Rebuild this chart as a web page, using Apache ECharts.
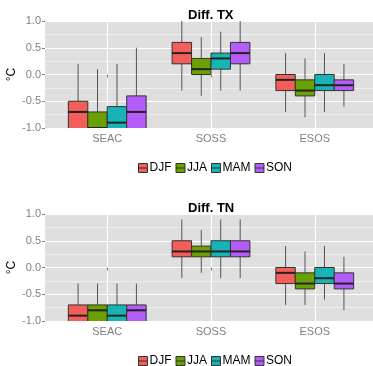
<!DOCTYPE html>
<html>
<head>
<meta charset="utf-8">
<script src="https://cdn.jsdelivr.net/npm/echarts@6/dist/echarts.min.js"></script>
<style>
  html, body { margin: 0; padding: 0; background: #fff; }
  #main { width: 373px; height: 366px; }
</style>
</head>
<body>
<div id="main"></div>
<script>
// 数据：类别、季节
var regions = ['SEAC', 'SOSS', 'ESOS'];
var seasons = ['DJF', 'JJA', 'MAM', 'SON'];
var colors = ['#F35E5A', '#6AA000', '#17B4B5', '#B45CF8'];

// 每个区域 [min, q1, median, q3, max]
var txDJF = [[-1.6, -1.2, -0.7, -0.5, 0.2], [-0.3, 0.2, 0.4, 0.6, 1.0], [-0.7, -0.3, -0.1, 0.0, 0.4]];
var txJJA = [[-1.6, -1.3, -1.0, -0.7, 0.1], [-0.4, 0.0, 0.1, 0.3, 0.7], [-0.8, -0.4, -0.3, -0.1, 0.3]];
var txMAM = [[-1.6, -1.2, -0.9, -0.6, 0.2], [-0.3, 0.1, 0.3, 0.4, 0.8], [-0.7, -0.3, -0.2, 0.0, 0.4]];
var txSON = [[-1.5, -1.1, -0.7, -0.4, 0.5], [-0.3, 0.2, 0.4, 0.6, 1.0], [-0.6, -0.3, -0.2, -0.1, 0.2]];

var tnDJF = [[-1.5, -1.1, -0.9, -0.7, -0.3], [-0.2, 0.2, 0.3, 0.5, 0.9], [-0.7, -0.3, -0.1, 0.0, 0.4]];
var tnJJA = [[-1.5, -1.1, -0.8, -0.7, -0.3], [-0.1, 0.2, 0.3, 0.4, 0.7], [-0.7, -0.4, -0.3, -0.1, 0.3]];
var tnMAM = [[-1.5, -1.1, -0.9, -0.7, -0.3], [-0.2, 0.2, 0.3, 0.5, 0.9], [-0.6, -0.3, -0.2, 0.0, 0.4]];
var tnSON = [[-1.5, -1.1, -0.8, -0.7, -0.3], [-0.2, 0.2, 0.3, 0.5, 0.9], [-0.8, -0.4, -0.3, -0.1, 0.2]];

var xTicks = [1, 2, 3];
var yTicks = [-1.0, -0.5, 0.0, 0.5, 1.0];

var panels = [
    { title: 'Diff. TX', data: [txDJF, txJJA, txMAM, txSON] },
    { title: 'Diff. TN', data: [tnDJF, tnJJA, tnMAM, tnSON] }
];

var boxW = 0.1875; // 0.75 / 4
var gridTops = [21, 214];
var gridH = 107;

// 竖向网格线用的辅助轴：0.4~3.6 分成 16 份，1/2/3 正好落在第 3/8/13 格
var gridSteps = [];
for (var j = 0; j <= 16; j++) gridSteps.push('');
var gridLineIdx = [3, 8, 13];

function renderBox(params, api) {
    var x = api.value(0);
    var half = api.size([boxW, 0])[0] / 2;
    var lo = api.coord([x, api.value(1)]);
    var q1 = api.coord([x, api.value(2)]);
    var md = api.coord([x, api.value(3)]);
    var q3 = api.coord([x, api.value(4)]);
    var hi = api.coord([x, api.value(5)]);
    return {
        type: 'group',
        children: [
            { type: 'line', shape: { x1: hi[0], y1: hi[1], x2: q3[0], y2: q3[1] }, style: { stroke: '#555', lineWidth: 1 } },
            { type: 'line', shape: { x1: q1[0], y1: q1[1], x2: lo[0], y2: lo[1] }, style: { stroke: '#555', lineWidth: 1 } },
            { type: 'rect', shape: { x: q3[0] - half, y: q3[1], width: half * 2, height: q1[1] - q3[1] },
              style: { fill: api.visual('color'), stroke: '#333', lineWidth: 1 } },
            { type: 'line', shape: { x1: md[0] - half, y1: md[1], x2: md[0] + half, y2: md[1] }, style: { stroke: '#222', lineWidth: 2 } }
        ]
    };
}

var grid = [], xAxis = [], yAxis = [], title = [], legend = [], series = [];

panels.forEach(function (p, k) {
    grid.push({
        left: 45, right: -4, top: gridTops[k], height: gridH,
        outerBoundsMode: 'none',
        show: true, backgroundColor: '#DFDFDF', borderWidth: 0
    });
    title.push({
        text: p.title, left: 183, top: gridTops[k] - 17,
        textStyle: { fontSize: 13, fontWeight: 'bold', color: '#000', fontFamily: 'Liberation Sans' }
    });
    xAxis.push({
        type: 'value', gridIndex: k, min: 0.4, max: 3.6,
        axisLine: { show: false },
        axisTick: { customValues: xTicks, length: 3, lineStyle: { color: '#7f7f7f' } },
        axisLabel: {
            customValues: xTicks, color: '#7f7f7f', fontSize: 11, margin: 5,
            formatter: function (v) { return regions[Math.round(v) - 1]; }
        },
        splitLine: { show: false }
    });
    yAxis.push({
        type: 'value', gridIndex: k, min: -1, max: 1, interval: 0.5,
        name: '°C', nameLocation: 'middle', nameGap: 27, nameRotate: 90,
        nameMoveOverlap: false,
        nameTextStyle: { color: '#000', fontSize: 12 },
        axisLine: { show: false },
        axisTick: { show: true, length: 3, lineStyle: { color: '#7f7f7f' } },
        axisLabel: {
            customValues: yTicks, color: '#7f7f7f', fontSize: 11, margin: 4,
            formatter: function (v) { return v.toFixed(1); }
        },
        splitLine: { show: true, lineStyle: { color: '#fff', width: 1 } },
        minorTick: { show: false, splitNumber: 2 },
        minorSplitLine: { show: true, lineStyle: { color: '#EEEEEE', width: 1 } }
    });
    legend.push({
        data: seasons, left: 133, top: gridTops[k] + 136,
        itemWidth: 9, itemHeight: 9, itemGap: 4,
        icon: 'path://M0,0H10V10H0ZM0,5H10',
        itemStyle: { borderColor: '#333', borderWidth: 1 },
        textStyle: { fontSize: 12, color: '#000', padding: [0, 0, 0, -3] }
    });
    seasons.forEach(function (s, i) {
        var d = p.data[i].map(function (b, c) {
            return [c + 1 + (i - 1.5) * boxW].concat(b);
        });
        series.push({
            name: s, type: 'custom', xAxisIndex: k, yAxisIndex: k,
            clip: true, silent: true, z: 3,
            itemStyle: { color: colors[i] },
            encode: { x: 0, y: [1, 2, 3, 4, 5] },
            renderItem: renderBox,
            data: d
        });
    });
});

// 辅助轴只画竖向白色网格线
panels.forEach(function (p, k) {
    xAxis.push({
        type: 'category', gridIndex: k, data: gridSteps, boundaryGap: false,
        position: 'bottom',
        axisLine: { show: false }, axisTick: { show: false }, axisLabel: { show: false },
        splitLine: {
            show: true,
            interval: function (idx) { return gridLineIdx.indexOf(idx) >= 0; },
            lineStyle: { color: '#fff', width: 1 }
        }
    });
});

var myChart = echarts.init(document.getElementById('main'));
myChart.setOption({
    animation: false,
    textStyle: { fontFamily: 'Liberation Sans' },
    title: title,
    grid: grid,
    xAxis: xAxis,
    yAxis: yAxis,
    legend: legend,
    series: series
});
</script>
</body>
</html>
